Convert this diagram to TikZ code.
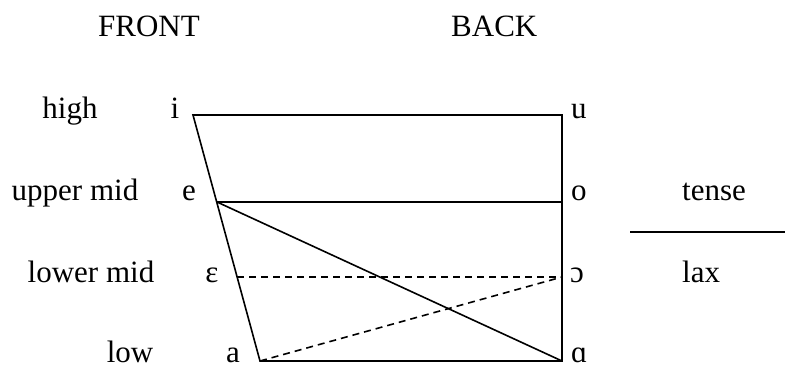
\documentclass[tikz,border=0pt]{standalone}
\usepackage{fontspec}
\setmainfont{Liberation Serif}
\usetikzlibrary{positioning}
\tikzset{
  lbl/.style={anchor=base, inner sep=0pt, font=\fontsize{31}{36}\selectfont},
  rlbl/.style={lbl, anchor=base west},
  side/.style={line width=1.6pt},
  laxline/.style={side, dash pattern=on 7pt off 5pt},
}

\begin{document}
\begin{tikzpicture}[x=1pt, y=-1pt]
  \useasboundingbox (0,0) rectangle (785,367);
  % corners of the vowel chart
  \coordinate (hi) at (193,115);
  \coordinate (hu) at (562,115);
  \coordinate (me) at (217,202);
  \coordinate (mo) at (562,202);
  \coordinate (le) at (237,277);
  \coordinate (lo) at (562,277);
  \coordinate (ba) at (260,361);
  \coordinate (bq) at (562,361);
  \coordinate (tl) at (630,232);
  \coordinate (tr) at (785,232);

  \node[rlbl] (front) at (98,36) {FRONT};
  \node[rlbl] (back) at (451,36) {BACK};

  \node[lbl] (high) at (70,118) {high};
  \node[lbl] (umid) at (75,200) {upper mid};
  \node[lbl] (lmid) at (91,282) {lower mid};
  \node[lbl] (low) at (130,362) {low};

  \node[lbl] (vi) at (175,118) {i};
  \node[lbl] (ve) at (189,200) {e};
  \node[lbl] (veps) at (212,282) {ɛ};
  \node[lbl] (va) at (233,362) {a};

  \node[rlbl] (vu) at (571,118) {u};
  \node[rlbl] (vo) at (571,200) {o};
  \node[rlbl] (vopen) at (570,282) {ɔ};
  \node[rlbl] (valpha) at (571,362) {ɑ};

  \node[rlbl] (tense) at (682,200) {tense};
  \node[rlbl] (lax) at (682,282) {lax};

  \draw[side] (hi) -- (hu) -- (bq) -- (ba) -- cycle;
  \draw[side] (me) -- (mo);
  \draw[side] (me) -- (bq);
  \draw[laxline] (le) -- (lo);
  \draw[laxline] (ba) -- (lo);
  \draw[side] (tl) -- (tr);
\end{tikzpicture}
\end{document}
